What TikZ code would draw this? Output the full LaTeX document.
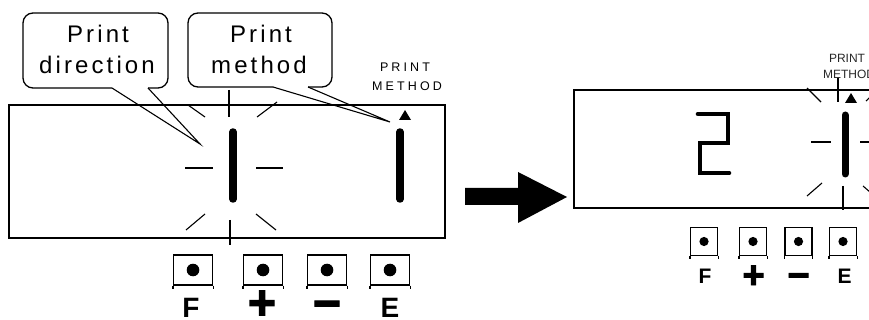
\documentclass[tikz,border=0pt]{standalone}
\usepackage{fontspec}
\setmainfont{Liberation Sans}
\usetikzlibrary{positioning}
\newfontfamily\calloutfont[LetterSpace=13]{Liberation Sans}
\newfontfamily\tagfont[LetterSpace=25]{Liberation Sans}
\newfontface\keyfont{Liberation Sans Bold}
\newfontface\heavyfont[FakeBold=2.5]{Liberation Sans Bold}
\newcommand{\fsz}[1]{\fontsize{#1}{#1}\selectfont}
\tikzset{
  lcd/.style={line width=1.4pt},
  ray/.style={line width=1.1pt},
  seg/.style={line width=7.5pt, line cap=round},
  segtwo/.style={line width=4.6pt, line cap=round, line join=miter},
  callout/.style={line width=1.3pt, rounded corners=10pt},
  tail/.style={line width=1.1pt},
  ctext/.style={font=\calloutfont\fsz{24}, anchor=base, inner sep=0pt},
  tagtext/.style={font=\tagfont\fsz{12.5}, anchor=base, inner sep=0pt},
  keyL/.style={draw, line width=1.2pt, inner sep=0pt, minimum width=39pt, minimum height=30pt,
    path picture={\fill (path picture bounding box.center) circle (6.3pt);}},
  keyR/.style={draw, line width=1.1pt, inner sep=0pt, minimum width=27pt, minimum height=28pt,
    path picture={\fill (path picture bounding box.center) circle (4.6pt);}},
  klab/.style={anchor=base, inner sep=0pt},
}
\begin{document}
\begin{tikzpicture}[x=1pt, y=-1pt]
\useasboundingbox (0,0) rectangle (869,320);
\clip (0,0) rectangle (869,320);
% left panel: callouts
\draw[callout] (112,88) -- (23,88) -- (23,13) -- (168,13) -- (168,88) -- (148,88);
\draw[callout] (273,87) -- (188,87) -- (188,13) -- (332,13) -- (332,87) -- (308,87);
\coordinate (dirtip) at (200,144);
\coordinate (methtip) at (390,122);
\draw[tail] (112,88) -- (dirtip) -- (148,88);
\draw[tail] (273,87) -- (methtip) -- (308,87);
\node[ctext] (dirA) at (98,43) {Print};
\node[ctext] (dirB) at (97,74) {direction};
\node[ctext] (methA) at (261,43) {Print};
\node[ctext] (methB) at (259,74) {method};
\node[tagtext] (ptagL) at (405,72) {PRINT};
\node[tagtext] (mtagL) at (407,91) {METHOD};
% left panel: display
\draw[lcd] (9,105) rectangle (445,238);
\draw[seg] (233,132) -- (233,199);
\draw[seg] (400,132) -- (400,199);
\fill (399,120) -- (411,120) -- (405,110) -- cycle;
\foreach \a/\b in {{229,90}/{229,117}, {230,220}/{230,245}, {188,105}/{205,117},
    {277,102}/{257,117}, {185,168}/{213,168}, {256,168}/{283,168},
    {205,214}/{186,230}, {256,214}/{276,230}}{
  \draw[ray] (\a) -- (\b);}
% left panel: keys
\foreach \n/\x in {f/193, p/263, m/327, e/390}{
  \node[keyL] (kl\n) at (\x,270) {};
  \draw[line width=1.2pt] (kl\n.south west) -- ++(0,3) (kl\n.south east) -- ++(0,3);}
\node[klab, font=\keyfont\fsz{28}] (lf) at (191,317) {F};
\node[klab, font=\heavyfont\fsz{48}] (lp) at (262,319) {+};
\node[klab, font=\heavyfont\fsz{48}] (lm) at (327,319.5) {−};
\node[klab, font=\keyfont\fsz{28}] (le) at (390,317) {E};
% arrow
\fill (465,188) -- (518,188) -- (518,172) -- (567,197) -- (518,223) -- (518,205) -- (465,205) -- cycle;
% right panel: display
\draw[lcd] (574,90) rectangle (900,208);
\draw[segtwo] (698,114) -- (728,114) -- (728,143) -- (700,143) -- (700,173) -- (729,173);
\draw[seg, line width=7pt] (845,115) -- (845,174);
\fill (845,103) -- (857,103) -- (851,93) -- cycle;
\foreach \a/\b in {{838,78}/{838,102}, {807,88}/{821,102}, {866,101}/{880,88},
    {811,142}/{831,142}, {860,142}/{880,142}, {807,196}/{822,183},
    {863,186}/{878,199}, {843,186}/{843,210}}{
  \draw[ray] (\a) -- (\b);}
\node[klab, font=\fsz{12}, text=black!85] (ptagR) at (847,63) {PRINT};
\node[klab, font=\fsz{12}, text=black!85] (mtagR) at (849,79) {METHOD};
% right panel: keys
\foreach \n/\x in {f/704, p/753, m/798.5, e/843}{
  \node[keyR] (kr\n) at (\x,241.5) {};
  \draw[line width=1.1pt] (kr\n.south west) -- ++(0,2.5) (kr\n.south east) -- ++(0,2.5);}
\node[klab, font=\keyfont\fsz{21}] (rf) at (705,283) {F};
\node[klab, font=\heavyfont\fsz{38}] (rp) at (753.5,288) {+};
\node[klab, font=\heavyfont\fsz{38}] (rm) at (798.5,288) {−};
\node[klab, font=\keyfont\fsz{21}] (re) at (844.5,283) {E};
\end{tikzpicture}
\end{document}
